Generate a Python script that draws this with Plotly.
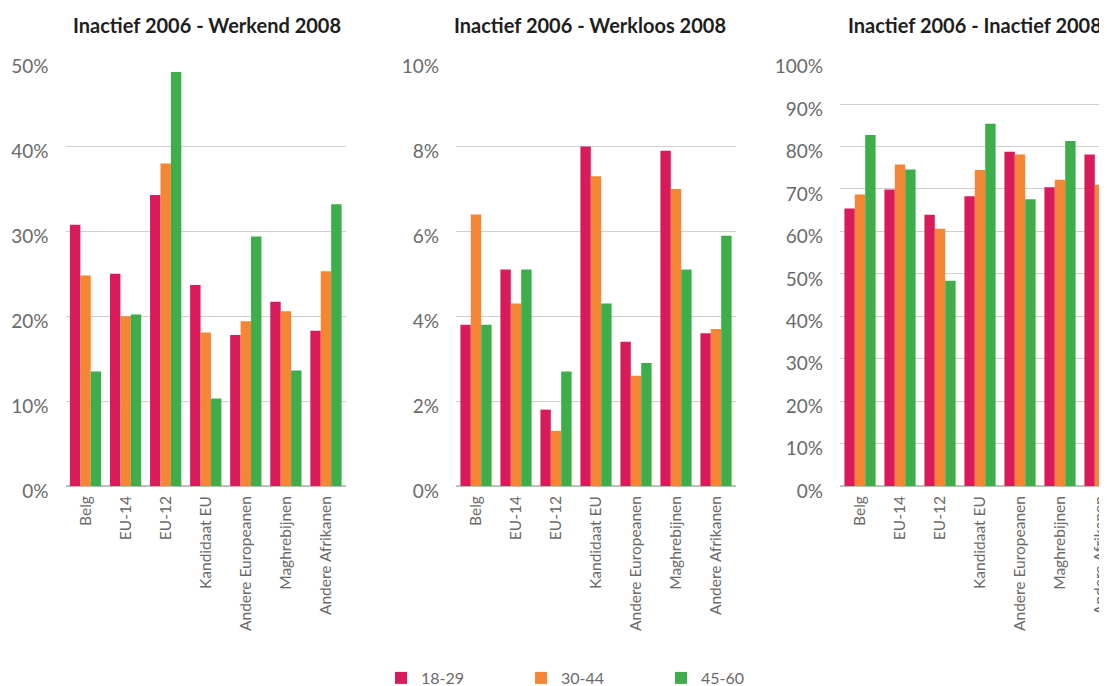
import plotly.graph_objects as go

categories = ["Belg", "EU-14", "EU-12", "Kandidaat EU", "Andere Europeanen", "Maghrebijnen", "Andere Afrikanen"]
series_names = ["18-29", "30-44", "45-60"]

werkend_18_29 = [30.8, 25.0, 34.3, 23.7, 17.8, 21.7, 18.3]
werkend_30_44 = [24.8, 20.0, 38.0, 18.1, 19.4, 20.6, 25.3]
werkend_45_60 = [13.5, 20.2, 48.8, 10.3, 29.4, 13.6, 33.2]

werkloos_18_29 = [3.8, 5.1, 1.8, 8.0, 3.4, 7.9, 3.6]
werkloos_30_44 = [6.4, 4.3, 1.3, 7.3, 2.6, 7.0, 3.7]
werkloos_45_60 = [3.8, 5.1, 2.7, 4.3, 2.9, 5.1, 5.9]

inactief_18_29 = [65.4, 69.9, 63.9, 68.3, 78.8, 70.4, 78.1]
inactief_30_44 = [68.7, 75.8, 60.6, 74.5, 78.1, 72.2, 71.0]
inactief_45_60 = [82.7, 74.6, 48.4, 85.4, 67.6, 81.3, 60.9]

titles = ["Inactief 2006 - Werkend 2008", "Inactief 2006 - Werkloos 2008", "Inactief 2006 - Inactief 2008"]
colors = ["#D91B5C", "#F58634", "#3DAE4A"]

W, H = 1107, 686
OFF = 8  # page body margin
panels = [
    (werkend_18_29, werkend_30_44, werkend_45_60),
    (werkloos_18_29, werkloos_30_44, werkloos_45_60),
    (inactief_18_29, inactief_30_44, inactief_45_60),
]

fig = go.Figure()
for p, vals in enumerate(panels):
    xa = "x" if p == 0 else f"x{p+1}"
    ya = "y" if p == 0 else f"y{p+1}"
    for s, v in enumerate(vals):
        fig.add_trace(go.Bar(
            x=categories, y=v, name=series_names[s],
            marker=dict(color=colors[s], line=dict(width=0)),
            xaxis=xa, yaxis=ya, showlegend=(p == 0),
            legendgroup=series_names[s],
        ))

def px(x):
    return (x - OFF) / W

def py(y):
    return 1 - (y - OFF) / H

ydom = [py(486), py(61.7)]
tickfont = dict(family="Lato", size=19, color="#6a6a6a")
xtickfont = dict(family="Lato", size=15.5, color="#6a6a6a")

x3_right = 1107
xdoms = [[px(65.5), px(346)], [px(456), px(736)], [px(840), px(x3_right)]]
yranges = [[0, 50], [0, 10], [0, 100]]
ydticks = [10, 2, 10]
xranges = [[-0.5, 6.5], [-0.5, 6.5], [-0.5, -0.5 + (x3_right - 840) / 40.0]]

layout = dict(
    width=W, height=H,
    margin=dict(l=0, r=0, t=0, b=0, autoexpand=False),
    paper_bgcolor="white", plot_bgcolor="white",
    barmode="group", bargap=0.22, bargroupgap=0,
    legend=dict(orientation="h", x=px(381), y=py(678), xanchor="left", yanchor="middle",
                font=dict(family="Lato", size=16, color="#6a6a6a"),
                entrywidth=95, entrywidthmode="pixels", itemwidth=30,
                bgcolor="rgba(0,0,0,0)"),
    showlegend=True,
)
for i in range(3):
    suffix = "" if i == 0 else str(i + 1)
    layout["xaxis" + suffix] = dict(
        domain=xdoms[i], anchor="y" + suffix, type="category",
        range=xranges[i], tickangle=-90, tickfont=xtickfont, automargin=False,
        showgrid=False, showline=False, ticks="", ticklabelstandoff=6,
    )
    layout["yaxis" + suffix] = dict(
        domain=ydom, anchor="x" + suffix, range=yranges[i], dtick=ydticks[i],
        ticksuffix="%", tickfont=tickfont, showgrid=True, gridcolor="#d0d0d0",
        gridwidth=1, zeroline=True, zerolinecolor="#bdbdbd", zerolinewidth=1.5,
        showline=False, ticks="", ticklabelstandoff=16, automargin=False,
        ticklabelshift=5,
    )
fig.update_layout(**layout)

title_centers = [207, 590, 975]
for t, cx in zip(titles, title_centers):
    fig.add_annotation(
        text=t, x=px(cx), y=py(25), xref="paper", yref="paper",
        xanchor="center", yanchor="middle", showarrow=False,
        font=dict(family="Lato", size=20, color="#1e1e1e", weight=700),
    )

fig.write_html("out.html")
